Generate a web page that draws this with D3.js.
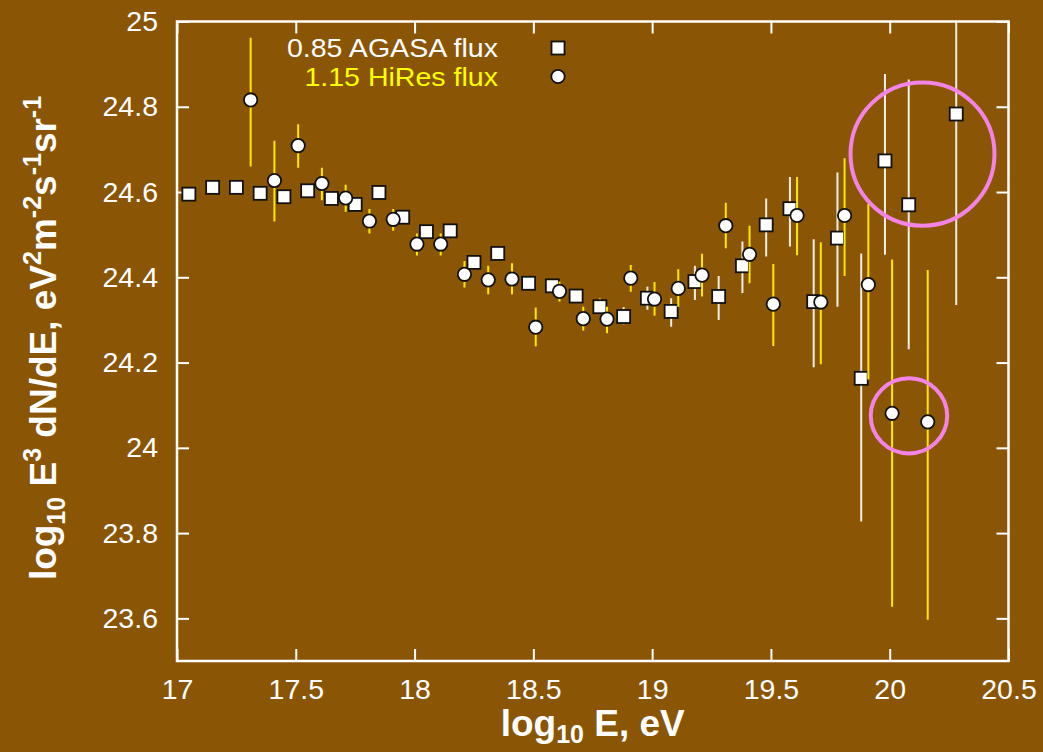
<!DOCTYPE html>
<html>
<head>
<meta charset="utf-8">
<script src="https://cdn.jsdelivr.net/npm/d3@7"></script>
<style>
  html, body { margin: 0; padding: 0; background: #8b5506; }
  svg { display: block; }
  text { font-family: "Liberation Sans", Arial, Helvetica, sans-serif; }
</style>
</head>
<body>
<svg id="chart" width="1043" height="752"></svg>
<script>
// AGASA flux (scaled by 0.85): log10 E, log10 E^3 dN/dE, lower and upper error
const agasaX  = [17.05, 17.15, 17.25, 17.35, 17.45, 17.55, 17.65, 17.75, 17.85, 17.95,
                 18.05, 18.15, 18.25, 18.35, 18.48, 18.58, 18.68, 18.78, 18.88, 18.98,
                 19.08, 19.18, 19.28, 19.38, 19.48, 19.58, 19.68, 19.78, 19.88, 19.98,
                 20.08, 20.28];
const agasaY  = [24.595, 24.611, 24.611, 24.597, 24.589, 24.603, 24.585, 24.571, 24.599, 24.541,
                 24.507, 24.509, 24.435, 24.456, 24.386, 24.380, 24.356, 24.331, 24.308, 24.351,
                 24.320, 24.390, 24.355, 24.427, 24.523, 24.561, 24.343, 24.492, 24.163, 24.673,
                 24.570, 24.783];
const agasaLo = [24.585, 24.601, 24.601, 24.587, 24.579, 24.593, 24.575, 24.560, 24.588, 24.530,
                 24.495, 24.497, 24.422, 24.443, 24.370, 24.365, 24.340, 24.315, 24.290, 24.324,
                 24.284, 24.347, 24.300, 24.363, 24.449, 24.472, 24.189, 24.331, 23.827, 24.453,
                 24.231, 24.335];
const agasaHi = [24.605, 24.621, 24.621, 24.607, 24.599, 24.613, 24.595, 24.582, 24.610, 24.552,
                 24.519, 24.521, 24.448, 24.469, 24.400, 24.395, 24.370, 24.350, 24.330, 24.378,
                 24.351, 24.427, 24.403, 24.484, 24.585, 24.635, 24.489, 24.646, 24.456, 24.877,
                 24.864, 25.100];

// HiRes flux (scaled by 1.15)
const hiresX  = [17.31, 17.41, 17.51, 17.61, 17.71, 17.81, 17.91, 18.01, 18.11, 18.21,
                 18.31, 18.41, 18.51, 18.61, 18.71, 18.81, 18.91, 19.01, 19.11, 19.21,
                 19.31, 19.41, 19.51, 19.61, 19.71, 19.81, 19.91, 20.01, 20.16];
const hiresY  = [24.816, 24.627, 24.709, 24.620, 24.586, 24.532, 24.536, 24.478, 24.478, 24.407,
                 24.394, 24.396, 24.283, 24.367, 24.303, 24.302, 24.398, 24.349, 24.374, 24.405,
                 24.521, 24.454, 24.337, 24.545, 24.342, 24.545, 24.383, 24.081, 24.061];
const hiresLo = [24.660, 24.531, 24.657, 24.581, 24.554, 24.503, 24.509, 24.451, 24.451, 24.376,
                 24.360, 24.360, 24.238, 24.343, 24.275, 24.269, 24.366, 24.310, 24.331, 24.355,
                 24.468, 24.386, 24.239, 24.452, 24.196, 24.403, 24.160, 23.627, 23.597];
const hiresHi = [24.962, 24.720, 24.759, 24.657, 24.617, 24.560, 24.560, 24.503, 24.503, 24.438,
                 24.427, 24.433, 24.329, 24.390, 24.331, 24.331, 24.429, 24.389, 24.419, 24.455,
                 24.575, 24.521, 24.431, 24.635, 24.482, 24.679, 24.572, 24.442, 24.417];

// Highlight rings around the highest-energy points (centre and radii in data units)
const ringX  = [20.138, 20.081];
const ringY  = [24.689, 24.075];
const ringRx = [0.303, 0.161];
const ringRy = [0.168, 0.088];

const xTicks = [17, 17.5, 18, 18.5, 19, 19.5, 20, 20.5];
const yTicks = [23.6, 23.8, 24, 24.2, 24.4, 24.6, 24.8, 25];
const legendLabels = ["0.85 AGASA flux", "1.15 HiRes flux"];

const BG = "#8b5506", WHITE = "#ffffff", YELLOW = "#ffff00", BAR_Y = "#fbe900",
      BAR_W = "#f3eee4", PINK = "#f384e6";

const svg = d3.select("#chart");
const pL = 177, pR = 1008.5, pT = 21.5, pB = 661;

const x = d3.scaleLinear().domain([17, 20.5]).range([pL, pR]);
const y = d3.scaleLinear().domain([23.5, 25]).range([pB, pT]);

svg.append("rect").attr("width", 1043).attr("height", 752).attr("fill", BG);

// clip for data marks
svg.append("defs").append("clipPath").attr("id", "plot")
  .append("rect").attr("x", pL).attr("y", pT)
  .attr("width", pR - pL).attr("height", pB - pT);

// axes with inward ticks
const tickLen = 12;
function styleAxis(g) {
  g.select(".domain").remove();
  g.selectAll(".tick line").attr("stroke", WHITE).attr("stroke-width", 2);
  g.selectAll(".tick text").attr("fill", WHITE).attr("font-size", 28.5)
    .attr("font-family", "'Liberation Sans', Arial, Helvetica, sans-serif");
}
svg.append("g").attr("transform", `translate(0,${pB})`)
  .call(d3.axisBottom(x).tickValues(xTicks).tickSizeInner(-tickLen).tickSizeOuter(0)
        .tickPadding(18).tickFormat(d3.format("")))
  .call(styleAxis);
svg.append("g").attr("transform", `translate(0,${pT})`)
  .call(d3.axisTop(x).tickValues(xTicks).tickSizeInner(-tickLen).tickSizeOuter(0).tickFormat(""))
  .call(styleAxis);
svg.append("g").attr("transform", `translate(${pL},0)`)
  .call(d3.axisLeft(y).tickValues(yTicks).tickSizeInner(-tickLen).tickSizeOuter(0)
        .tickPadding(19).tickFormat(d3.format("")))
  .call(styleAxis);
svg.append("g").attr("transform", `translate(${pR},0)`)
  .call(d3.axisRight(y).tickValues(yTicks).tickSizeInner(-tickLen).tickSizeOuter(0).tickFormat(""))
  .call(styleAxis);

svg.append("rect").attr("x", pL).attr("y", pT)
  .attr("width", pR - pL).attr("height", pB - pT)
  .attr("fill", "none").attr("stroke", WHITE).attr("stroke-width", 2.5);

const plot = svg.append("g").attr("clip-path", "url(#plot)");

const agasa = agasaX.map((v, i) => ({x: v, y: agasaY[i], lo: agasaLo[i], hi: agasaHi[i]}));
const hires = hiresX.map((v, i) => ({x: v, y: hiresY[i], lo: hiresLo[i], hi: hiresHi[i]}));

// AGASA: error bars then squares
plot.selectAll("line.agasa").data(agasa).join("line").attr("class", "agasa")
  .attr("x1", d => x(d.x)).attr("x2", d => x(d.x))
  .attr("y1", d => y(d.lo)).attr("y2", d => y(d.hi))
  .attr("stroke", BAR_W).attr("stroke-width", 2);
const sq = 13;
plot.selectAll("rect.agasa").data(agasa).join("rect").attr("class", "agasa")
  .attr("x", d => x(d.x) - sq / 2).attr("y", d => y(d.y) - sq / 2)
  .attr("width", sq).attr("height", sq)
  .attr("fill", WHITE).attr("stroke", "#111").attr("stroke-width", 1.8);

// HiRes: error bars then circles
plot.selectAll("line.hires").data(hires).join("line").attr("class", "hires")
  .attr("x1", d => x(d.x)).attr("x2", d => x(d.x))
  .attr("y1", d => y(d.lo)).attr("y2", d => y(d.hi))
  .attr("stroke", BAR_Y).attr("stroke-width", 2);
plot.selectAll("circle.hires").data(hires).join("circle").attr("class", "hires")
  .attr("cx", d => x(d.x)).attr("cy", d => y(d.y)).attr("r", 6.7)
  .attr("fill", WHITE).attr("stroke", "#111").attr("stroke-width", 1.8);

// highlight rings
svg.selectAll("ellipse.ring").data(ringX).join("ellipse").attr("class", "ring")
  .attr("cx", d => x(d)).attr("cy", (d, i) => y(ringY[i]))
  .attr("rx", (d, i) => x(17 + ringRx[i]) - x(17))
  .attr("ry", (d, i) => y(24) - y(24 + ringRy[i]))
  .attr("fill", "none").attr("stroke", PINK).attr("stroke-width", 4);

// legend (labels drawn in a slightly widened face)
const legend = svg.append("g");
legend.append("g").attr("transform", "translate(498,0) scale(1.12,1)")
  .selectAll("text").data(legendLabels).join("text")
  .attr("x", 0).attr("y", (d, i) => 57 + i * 29)
  .attr("text-anchor", "end").attr("font-size", 25.5)
  .attr("fill", (d, i) => i === 0 ? WHITE : YELLOW).text(d => d);
legend.append("rect").attr("x", 558 - sq / 2).attr("y", 48 - sq / 2)
  .attr("width", sq).attr("height", sq)
  .attr("fill", WHITE).attr("stroke", "#111").attr("stroke-width", 1.8);
legend.append("circle").attr("cx", 558).attr("cy", 76.5).attr("r", 6.7)
  .attr("fill", WHITE).attr("stroke", "#111").attr("stroke-width", 1.8);

// axis titles
const xt = svg.append("text").attr("x", (pL + pR) / 2).attr("y", 736)
  .attr("text-anchor", "middle").attr("font-size", 37).attr("font-weight", "bold")
  .attr("fill", WHITE);
xt.append("tspan").text("log");
xt.append("tspan").attr("font-size", 25).attr("dy", 7).text("10");
xt.append("tspan").attr("dy", -7).text(" E, eV");

const yt = svg.append("text").attr("transform", "translate(56,338) rotate(-90)")
  .attr("text-anchor", "middle").attr("font-size", 37).attr("font-weight", "bold")
  .attr("fill", WHITE);
const parts = [
  ["log", 0], ["10", 1], [" E", 0], ["3", 2], [" dN/dE, eV", 0], ["2", 2], ["m", 0],
  ["-2", 2], ["s", 0], ["-1", 2], ["sr", 0], ["-1", 2]
];
let shift = 0;
parts.forEach(([t, kind]) => {
  const target = kind === 1 ? 9 : kind === 2 ? -15 : 0;
  const ts = yt.append("tspan").attr("dy", target - shift).text(t);
  if (kind) ts.attr("font-size", 25);
  shift = target;
});
</script>
</body>
</html>
